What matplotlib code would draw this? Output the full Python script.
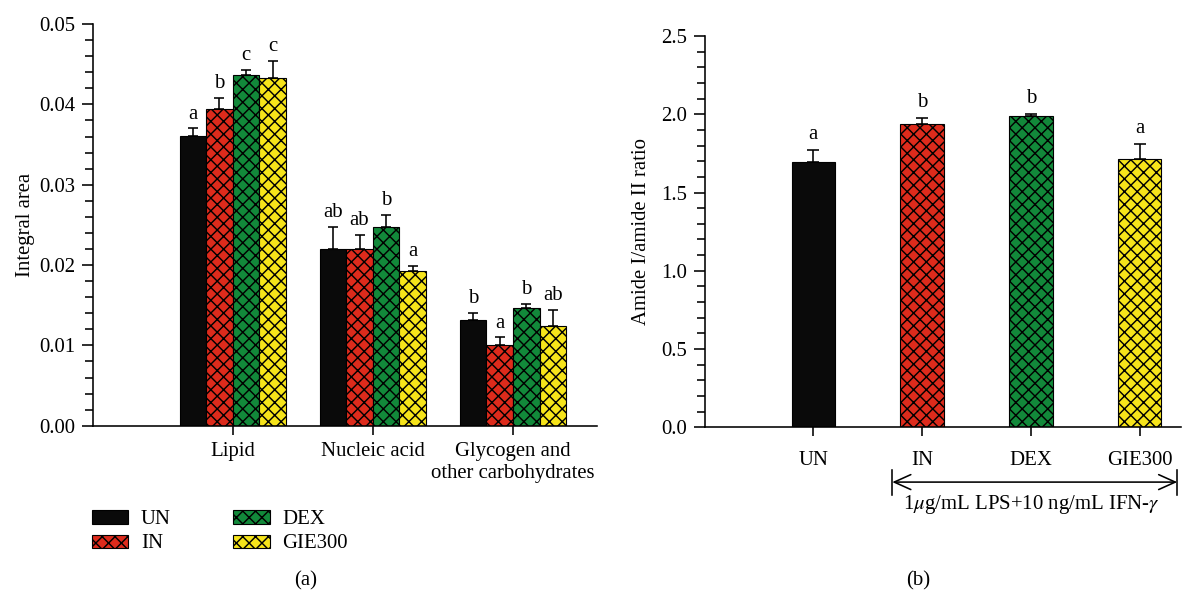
import numpy as np
import matplotlib
matplotlib.use('Agg')
import matplotlib.pyplot as plt
from matplotlib.ticker import AutoMinorLocator, FormatStrFormatter
from matplotlib.patches import Patch
from matplotlib.lines import Line2D

plt.rcParams['font.family'] = ['Liberation Serif', 'DejaVu Serif']
plt.rcParams['mathtext.fontset'] = 'stix'
plt.rcParams['font.size'] = 13
plt.rcParams['hatch.linewidth'] = 0.9

# panel (a) data
categories = ['Lipid', 'Nucleic acid', 'Glycogen and\nother carbohydrates']
groups = ['UN', 'IN', 'DEX', 'GIE300']
un_vals = [0.0361, 0.0220, 0.0131]
in_vals = [0.0394, 0.0220, 0.0100]
dex_vals = [0.0437, 0.0247, 0.0147]
gie_vals = [0.0433, 0.0193, 0.0124]
un_err = [0.0009, 0.0027, 0.0009]
in_err = [0.0014, 0.0018, 0.0010]
dex_err = [0.0006, 0.0015, 0.0005]
gie_err = [0.0021, 0.0006, 0.0020]
un_letters = ['a', 'ab', 'b']
in_letters = ['b', 'ab', 'a']
dex_letters = ['c', 'b', 'b']
gie_letters = ['c', 'a', 'ab']

# panel (b) data
ratio_vals = [1.693, 1.940, 1.991, 1.712]
ratio_err = [0.081, 0.038, 0.013, 0.098]
ratio_letters = ['a', 'b', 'b', 'a']
treatment_note = r'1$\mu$g/mL LPS+10 ng/mL IFN-$\gamma$'

colors = ['#0a0a0a', '#dd2b1c', '#12893a', '#f6e41a']
hatches = [None, 'xxx', 'xxx', 'xxx']

DPI = 115
fig = plt.figure(figsize=(1199 / DPI, 592 / DPI), dpi=DPI)
ax1 = fig.add_axes([0.0773, 0.2809, 0.4206, 0.6785])
ax2 = fig.add_axes([0.5876, 0.2782, 0.3974, 0.6610])


def style_axis(ax, xpad):
    for s in ['top', 'right']:
        ax.spines[s].set_visible(False)
    for s in ['left', 'bottom']:
        ax.spines[s].set_linewidth(1.0)
    ax.tick_params(axis='y', which='major', direction='out', length=7, width=1.0, pad=4)
    ax.tick_params(axis='y', which='minor', direction='out', length=4.8, width=1.0)
    ax.tick_params(axis='x', which='major', direction='out', length=5.6, width=1.0, pad=xpad)
    ax.yaxis.set_minor_locator(AutoMinorLocator(5))


# ---- panel (a)
x = np.arange(1, len(categories) + 1)
w = 0.19
series = [(un_vals, un_err, un_letters), (in_vals, in_err, in_letters),
          (dex_vals, dex_err, dex_letters), (gie_vals, gie_err, gie_letters)]
for i, (vals, err, letters) in enumerate(series):
    xi = x + (i - 1.5) * w
    ax1.bar(xi, vals, width=w, color=colors[i], edgecolor='black',
            linewidth=0.7, hatch=hatches[i], zorder=2)
    ax1.errorbar(xi, vals, yerr=[np.zeros(len(vals)), err], fmt='none',
                 ecolor='black', elinewidth=1.0, capsize=3.1, capthick=1.0, zorder=3)
    for xx, v, e, t in zip(xi, vals, err, letters):
        ax1.annotate(t, (xx, v + e), xytext=(0, 3), textcoords='offset points',
                     ha='center', va='bottom', fontsize=13)

ax1.set_xlim(0, 3.6)
ax1.set_ylim(0, 0.05)
ax1.set_xticks(x)
ax1.set_xticklabels(categories)
ax1.yaxis.set_major_formatter(FormatStrFormatter('%.2f'))
style_axis(ax1, 4.5)
ax1.set_ylabel('Integral area', fontsize=13)
ax1.yaxis.set_label_coords(-0.115, 0.5)

handles = [Patch(facecolor=colors[i], edgecolor='black', linewidth=0.7,
                 hatch=hatches[i], label=groups[i]) for i in range(4)]
fig.legend(handles=handles, loc='upper left', bbox_to_anchor=(0.0768, 0.138),
           ncol=2, frameon=False, borderpad=0, borderaxespad=0,
           handlelength=1.75, handleheight=0.6, handletextpad=0.6,
           labelspacing=0.25, columnspacing=3.0, fontsize=13)
fig.text(306 / 1199, 1 - 581 / 592, '(a)', ha='center', va='center', fontsize=13)

# ---- panel (b)
xb = np.arange(1, len(groups) + 1)
wb = 0.40
ax2.bar(xb, ratio_vals, width=wb, color=colors, edgecolor='black',
        linewidth=0.7, zorder=2)
for i, p in enumerate(ax2.patches):
    if hatches[i]:
        p.set_hatch(hatches[i])
ax2.errorbar(xb, ratio_vals, yerr=[np.zeros(len(xb)), ratio_err], fmt='none',
             ecolor='black', elinewidth=1.0, capsize=3.6, capthick=1.0, zorder=3)
for xx, v, e, t in zip(xb, ratio_vals, ratio_err, ratio_letters):
    ax2.annotate(t, (xx, v + e), xytext=(0, 3.5), textcoords='offset points',
                 ha='center', va='bottom', fontsize=13)

ax2.set_xlim(0, 4.38)
ax2.set_ylim(0, 2.5)
ax2.set_xticks(xb)
ax2.set_xticklabels(groups)
ax2.yaxis.set_major_formatter(FormatStrFormatter('%.1f'))
style_axis(ax2, 9)
ax2.set_ylabel('Amide I/amide II ratio', fontsize=13)
ax2.yaxis.set_label_coords(-0.112, 0.5)

# bracket for the stimulated groups
ya = -0.14
ax2.annotate('', xy=(0.992, ya), xytext=(0.394, ya), xycoords='axes fraction',
             arrowprops=dict(arrowstyle='<->,head_length=0.8,head_width=0.36',
                             lw=1.0, color='black', shrinkA=0, shrinkB=0))
for xe in [0.394, 0.992]:
    ax2.add_line(Line2D([xe, xe], [-0.109, -0.173], transform=ax2.transAxes,
                        color='black', lw=1.0, clip_on=False))
ax2.text(0.686, -0.196, treatment_note, transform=ax2.transAxes,
         ha='center', va='center', fontsize=13)
fig.text(918 / 1199, 1 - 581 / 592, '(b)', ha='center', va='center', fontsize=13)

fig.savefig('out.png', dpi=DPI)
